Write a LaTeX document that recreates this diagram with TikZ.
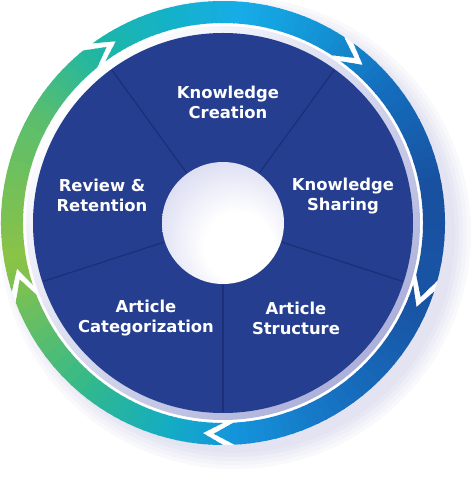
\documentclass[tikz,border=0pt]{standalone}
\usepackage{fontspec}
\setmainfont{DejaVu Sans}
\definecolor{discblue}{RGB}{37,62,143}
\definecolor{divblue}{RGB}{24,40,108}
\definecolor{rimc}{RGB}{172,176,218}
\definecolor{shadowc}{RGB}{150,150,205}
\definecolor{holemid}{RGB}{214,216,240}
\definecolor{holeedge}{RGB}{150,156,206}
\definecolor{ringa}{RGB}{140,195,70}
\definecolor{ringb}{RGB}{50,185,140}
\definecolor{ringc}{RGB}{20,172,195}
\definecolor{ringd}{RGB}{20,150,220}
\definecolor{ringe}{RGB}{22,115,195}
\definecolor{ringf}{RGB}{25,85,165}
\definecolor{ringg}{RGB}{25,80,160}
\definecolor{ringh}{RGB}{20,110,190}
\definecolor{ringi}{RGB}{20,150,215}
\definecolor{ringj}{RGB}{22,172,232}
\definecolor{ringk}{RGB}{20,178,200}
\definecolor{ringl}{RGB}{30,182,165}
\definecolor{ringm}{RGB}{90,190,110}
\pgfdeclareradialshading{holeshade}{\pgfpoint{8bp}{-12bp}}{color(0bp)=(white); color(14bp)=(white); color(36bp)=(holemid); color(66bp)=(holeedge)}

\begin{document}
\begin{tikzpicture}[x=1bp,y=1bp,
  seglabel/.style={text=white,align=center,inner sep=0pt,
    font=\bfseries\fontsize{16.4bp}{20bp}\selectfont},
  divider/.style={divblue,line width=1.2pt,opacity=0.65}]
  \useasboundingbox (-223,-271) rectangle (251,223);
  %draw soft shadow
  \begin{scope}[even odd rule]
  \clip (-223,-271) rectangle (251,223) (0,0) circle (222);
  \foreach \r in {220,224,...,236}
    \fill[shadowc,fill opacity=0.06] (12,-10) circle (\r);
  \end{scope}
  %draw arrow ring
  \begin{scope}
  \clip \foreach \g in {126,54,-18,-90,-162} {
    (\g:222) -- ({\g-5.5}:211) -- (\g:200)
    arc[start angle=\g, end angle={\g-69}, radius=200]
    -- ({\g-74.5}:211) -- ({\g-69}:222)
    arc[start angle={\g-69}, end angle=\g, radius=222] -- cycle
  };
  \foreach \ta/\tb/\ca/\cb in {-170/-130/ringa/ringb, -130/-105/ringb/ringc,
      -105/-88/ringc/ringd, -88/-60/ringd/ringe, -60/-25/ringe/ringf,
      -25/10/ringf/ringg, 10/40/ringg/ringh, 40/65/ringh/ringi,
      65/85/ringi/ringj, 85/105/ringj/ringk, 105/126/ringk/ringl,
      126/150/ringl/ringm, 150/190/ringm/ringa}{
    \foreach \i in {0,...,11}{
      \pgfmathsetmacro\t{\ta+(\tb-\ta)*\i/12}
      \pgfmathsetmacro\u{\ta+(\tb-\ta)*(\i+1)/12+0.4}
      \pgfmathtruncatemacro\p{100*(\i+0.5)/12}
      \path[fill=\cb!\p!\ca] (\t:198) arc[start angle=\t, end angle=\u, radius=198]
        -- (\u:224) arc[start angle=\u, end angle=\t, radius=224] -- cycle;
    }
  }
  \end{scope}
  %draw disc with rim
  \shade[top color=white,bottom color=rimc,shading angle=45] (0,0) circle (197);
  \fill[discblue] (0,0) circle (190);
  \foreach \a in {126,54,-18,-90,-162}
    \draw[divider] (\a:62) -- (\a:189);
  %draw centre hole
  \shade[shading=holeshade] (0,0) circle (61);
  %labels
  \node[seglabel] (creation) at (5,121) {Knowledge\\Creation};
  \node[seglabel] (sharing) at (120,27) {Knowledge\\Sharing};
  \node[seglabel] (retention) at (-121,28) {Review \&\\Retention};
  \node[seglabel] (categorization) at (-77,-95) {Article\\Categorization};
  \node[seglabel] (structure) at (73,-95) {Article\\Structure};
\end{tikzpicture}
\end{document}
